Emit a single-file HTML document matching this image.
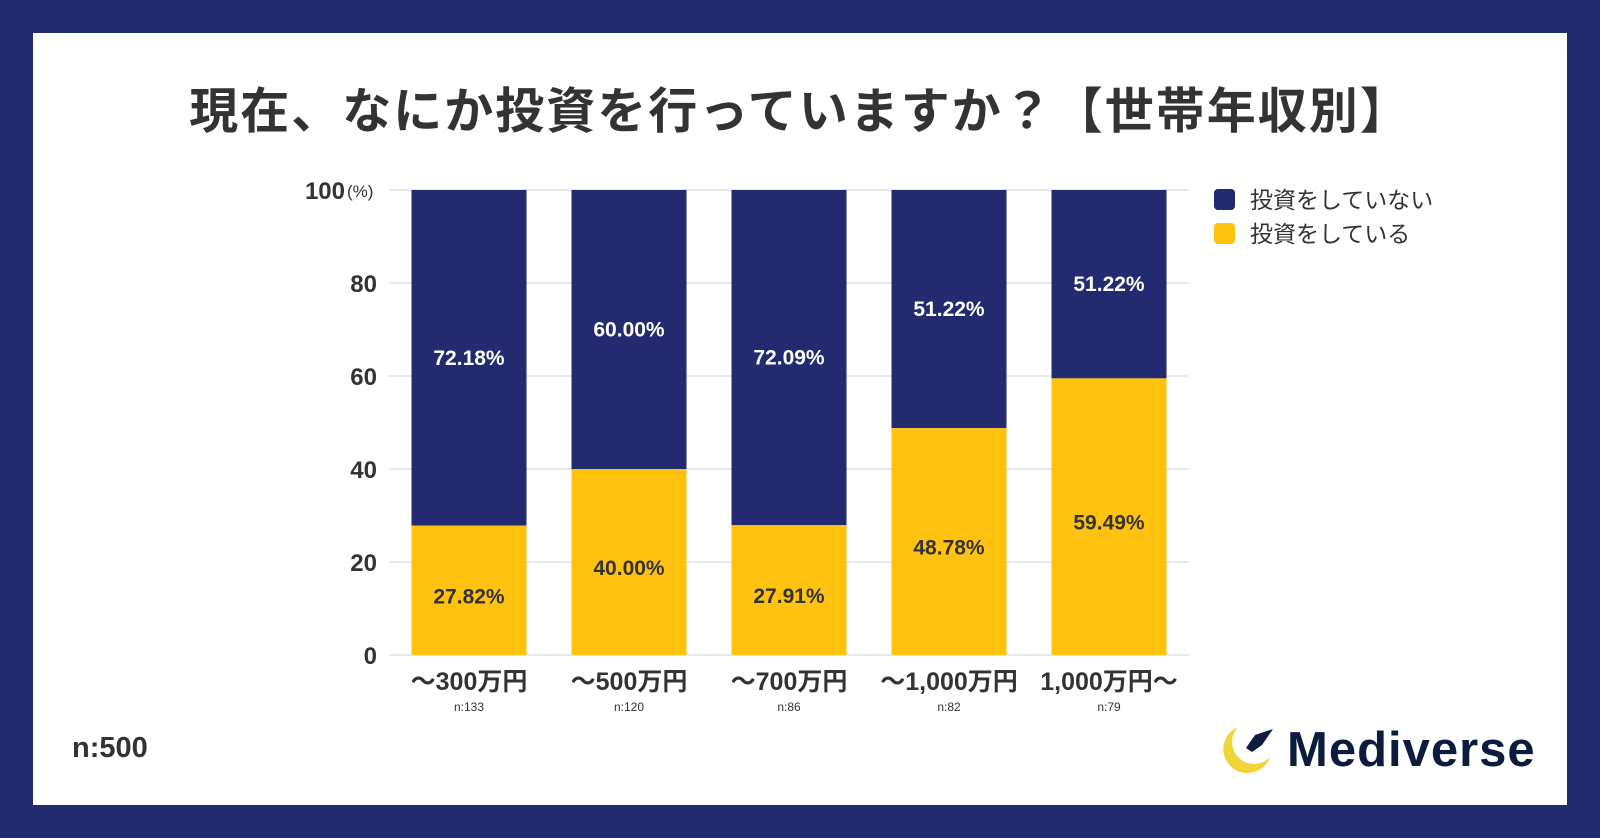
<!DOCTYPE html>
<html><head><meta charset="utf-8"><style>
html,body{margin:0;padding:0;}
body{width:1600px;height:838px;background:#232a6f;position:relative;overflow:hidden;font-family:"Liberation Sans","Noto Sans CJK JP",sans-serif;}
#panel{position:absolute;left:33px;top:33px;width:1534px;height:772px;background:#fff;}
#title{position:absolute;left:0;top:78px;width:1600px;text-align:center;font-size:49px;font-weight:bold;color:#333;letter-spacing:2px;font-family:"Noto Sans CJK JP",sans-serif;line-height:60px;}
svg{position:absolute;left:0;top:0;}
</style></head><body>
<div id="panel"></div>
<div id="title">現在、なにか投資を行っていますか？【世帯年収別】</div>
<svg id="chart" width="1600" height="838"></svg>
<script>
const categories=["〜300万円","〜500万円","〜700万円","〜1,000万円","1,000万円〜"];
const sampleSizes=["n:133","n:120","n:86","n:82","n:79"];
const investingVals=[27.82,40.00,27.91,48.78,59.49];
const notInvestingLabels=["72.18%","60.00%","72.09%","51.22%","51.22%"];
const investingLabels=["27.82%","40.00%","27.91%","48.78%","59.49%"];
const yTicks=[0,20,40,60,80,100];
const NS="http://www.w3.org/2000/svg";
const svg=document.getElementById('chart');
const y0=655,y100=190,xStart=389,xEnd=1189,step=160,firstC=469,bw=115;
const yS=v=>y0-(y0-y100)*v/100;
const xC=i=>firstC+i*step;
function mk(t,a,txt){const e=document.createElementNS(NS,t);for(const k in a)e.setAttribute(k,a[k]);if(txt!=null)e.textContent=txt;svg.appendChild(e);return e;}
const F='"Liberation Sans","Noto Sans CJK JP",sans-serif';
yTicks.forEach(t=>{
 let g=mk('line',{x1:xStart,x2:xEnd,y1:yS(t),y2:yS(t),stroke:'#d0d0d0','stroke-width':1});
 
 
 let l=mk('text',{x:t===100?345:377,y:yS(t)+9,'text-anchor':'end','font-size':24,'font-weight':'bold',fill:'#333','font-family':F},String(t));
 
 
});
let pu=mk('text',{x:347,y:197,'font-size':17,fill:'#333','font-family':F},'(%)');


categories.forEach((c,i)=>{
 const x=xC(i)-bw/2,v=investingVals[i];
 let n=mk('rect',{x:x,y:yS(100),width:bw,height:yS(v)-yS(100),fill:'#232a6f'});
 
 
 let y=mk('rect',{x:x,y:yS(v),width:bw,height:y0-yS(v),fill:'#ffc20e'});
 
 
 let t1=mk('text',{x:xC(i),y:(yS(100)+yS(v))/2+7,'text-anchor':'middle','font-size':21,'font-weight':'bold',fill:'#fff','font-family':F},notInvestingLabels[i]);
 
 
 let t2=mk('text',{x:xC(i),y:(yS(v)+y0)/2+13,'text-anchor':'middle','font-size':21,'font-weight':'bold',fill:'#333','font-family':F},investingLabels[i]);
 
 
 let cl=mk('text',{x:xC(i),y:690,'text-anchor':'middle','font-size':25,'font-weight':'bold',fill:'#333','font-family':F},c);
 
 
 let sl=mk('text',{x:xC(i),y:711,'text-anchor':'middle','font-size':12,fill:'#333','font-family':F},sampleSizes[i]);
 
 
});
</script>
<svg width="1600" height="838" style="font-family:'Liberation Sans','Noto Sans CJK JP',sans-serif">
 <g>
  <rect x="1214" y="189" width="21" height="21" rx="4" fill="#232a6f"/>
  <text x="1250" y="208" font-size="23" fill="#333">投資をしていない</text>
 </g>
 <g>
  <rect x="1214" y="223" width="21" height="21" rx="4" fill="#ffc20e"/>
  <text x="1250" y="242" font-size="23" fill="#333">投資をしている</text>
 </g>
 <text x="72" y="757" font-size="29" font-weight="bold" fill="#333">n:500</text>
 <g>
  <path d="M1238 727 A24 24 0 1 0 1270 757 A20 20 0 0 1 1238 727 Z" fill="#f0d43a"/>
  <path d="M1273 729 L1255 735 L1246 748 L1252 752 L1262 745 Z" fill="#0d1b3e"/>
  <text x="1287" y="766" font-size="49" font-weight="bold" fill="#0d1b3e" letter-spacing="1">Mediverse</text>
 </g>
</svg>
</body></html>
